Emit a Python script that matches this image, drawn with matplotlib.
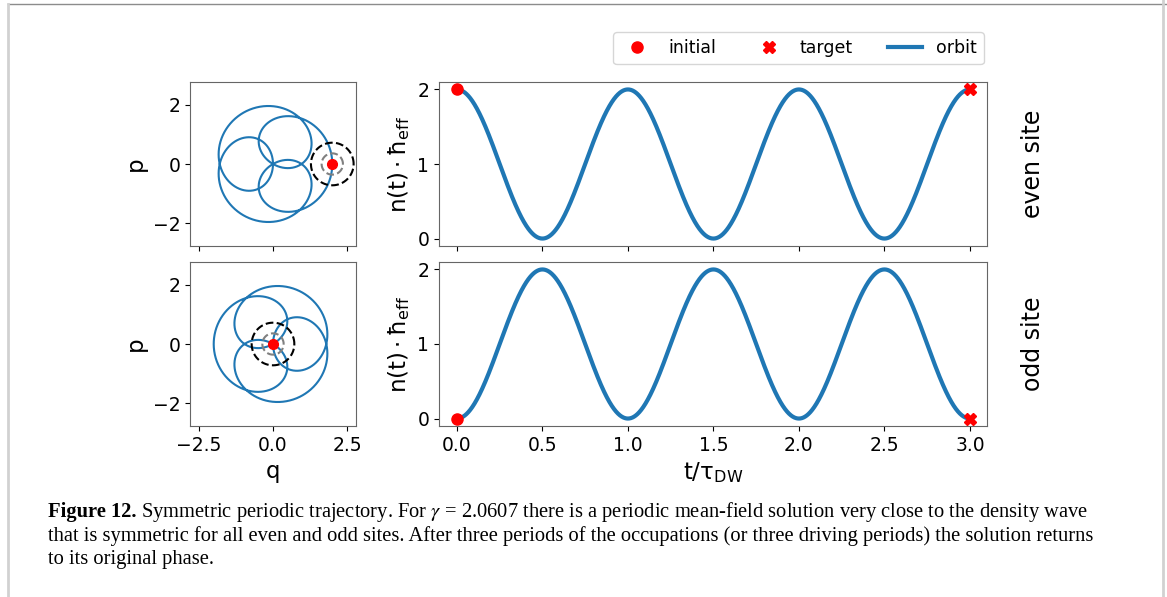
import numpy as np
import matplotlib
matplotlib.use("Agg")
import matplotlib.pyplot as plt
from matplotlib.lines import Line2D

# values
t_end = 3.0              # t / tau_DW range
n_mean = 1.0             # n(t)*hbar_eff oscillates 0..2 with period 1
n_amp = 1.0
period = 1.0
winding = 5 * np.pi / 3  # phase advance per period of n (rad)
swirl = 0.37             # phase modulation that makes the loops round
start_even = (2.0, 0.0)
start_odd = (0.0, 0.0)
ring_radii = [0.72, 0.36]
ring_colors = ["black", "gray"]
qp_ticks = [-2.5, 0.0, 2.5]
p_ticks = [-2, 0, 2]
t_ticks = [0.0, 0.5, 1.0, 1.5, 2.0, 2.5, 3.0]
n_ticks = [0, 1, 2]
sites = ["even site", "odd site"]

blue = "#1f77b4"
W, H = 1167, 597

t = np.linspace(0, t_end, 3000)
n_even = n_mean + n_amp * np.cos(2 * np.pi * t / period)
n_odd = n_mean - n_amp * np.cos(2 * np.pi * t / period)


def phase(tt):
    return winding * tt + swirl * np.sin(2 * np.pi * tt / period)


# orbit in phase space: radius sqrt(2 n), rotating phase
z_even = 2 * np.cos(np.pi * t) * np.exp(1j * phase(t))
z_odd = 2 * np.sin(np.pi * t) * np.exp(1j * phase(t + 0.5))

fig = plt.figure(figsize=(W / 100, H / 100), dpi=100)


def px_axes(x0, y0, x1, y1):
    return fig.add_axes([x0 / W, 1 - y1 / H, (x1 - x0) / W, (y1 - y0) / H])


ax_qp = [px_axes(190, 82, 356, 246), px_axes(190, 262, 356, 426)]
ax_n = [px_axes(439, 82, 987, 246), px_axes(439, 262, 987, 426)]

tick_fs = 13.5
lab_fs = 16.5

for ax in ax_qp + ax_n:
    for sp in ax.spines.values():
        sp.set_edgecolor("0.4")

for ax, z, start in zip(ax_qp, [z_even, z_odd], [start_even, start_odd]):
    ax.plot(z.real, z.imag, color=blue, lw=1.5)
    th = np.linspace(0, 2 * np.pi, 200)
    for rr, cc in zip(ring_radii, ring_colors):
        ax.plot(start[0] + rr * np.cos(th), start[1] + rr * np.sin(th),
                ls="--", color=cc, lw=1.5)
    ax.plot(*start, "o", color="red", ms=7, zorder=5)
    ax.set_xlim(-2.8, 2.8)
    ax.set_ylim(-2.77, 2.77)
    ax.set_xticks(qp_ticks)
    ax.set_yticks(p_ticks)
    ax.set_ylabel("p", fontsize=lab_fs)
    ax.tick_params(labelsize=tick_fs)
ax_qp[0].tick_params(labelbottom=False)
ax_qp[1].set_xlabel("q", fontsize=lab_fs)

for ax, n, site in zip(ax_n, [n_even, n_odd], sites):
    ax.plot(t, n, color=blue, lw=3, label="orbit")
    ax.plot(t[0], n[0], "o", color="red", ms=8, zorder=5, label="initial")
    ax.plot(t[-1], n[-1], "X", color="red", ms=8, zorder=5, label="target")
    ax.set_xlim(-0.105, 3.1)
    ax.set_xticks(t_ticks)
    ax.set_yticks(n_ticks)
    ax.set_ylabel(r"$\mathrm{n(t)\cdot\hbar_{eff}}$", fontsize=lab_fs)
    ax.tick_params(labelsize=tick_fs)
    ax.text(1.084, 0.5, site, transform=ax.transAxes, rotation=90,
            ha="center", va="center", fontsize=17)
ax_n[0].tick_params(labelbottom=False)
ax_n[1].set_xlabel(r"$\mathrm{t/\tau_{DW}}$", fontsize=lab_fs)

handles = [Line2D([], [], ls="", marker="o", color="red", ms=8),
           Line2D([], [], ls="", marker="X", color="red", ms=8),
           Line2D([], [], color=blue, lw=3)]
ax_n[0].legend(handles, ["initial", "target", "orbit"], ncol=3,
               loc="center", bbox_to_anchor=(0.656, 1.207), fontsize=12.5)

# page frame
fig.add_artist(Line2D([7.5 / W, 1], [1 - 4.3 / H] * 2, color="0.55", lw=1))
fig.add_artist(Line2D([7.5 / W] * 2, [0, 1 - 4.3 / H], color="0.82", lw=2))
fig.add_artist(Line2D([1163 / W] * 2, [0, 1], color="0.82", lw=2))

# caption
cap_font = "Liberation Serif"
cap_fs = 14.8
lines = [
    r" Symmetric periodic trajectory. For $\gamma$ = 2.0607 there is a periodic "
    "mean-field solution very close to the density wave",
    "that is symmetric for all even and odd sites. After three periods of the "
    "occupations (or three driving periods) the solution returns",
    "to its original phase.",
]
rend = fig.canvas.get_renderer()
head = fig.text(48 / W, 1 - 517 / H, "Figure 12.", family=cap_font,
                weight="bold", fontsize=cap_fs, va="baseline")
x_after = head.get_window_extent(rend).x1 / fig.bbox.width
fig.text(x_after, 1 - 517 / H, lines[0], family=cap_font, fontsize=cap_fs,
         va="baseline", math_fontfamily="stix")
for i, ln in enumerate(lines[1:]):
    fig.text(48 / W, 1 - (540.5 + 23.5 * i) / H, ln, family=cap_font,
             fontsize=cap_fs, va="baseline")

fig.savefig("out.png", dpi=100)
